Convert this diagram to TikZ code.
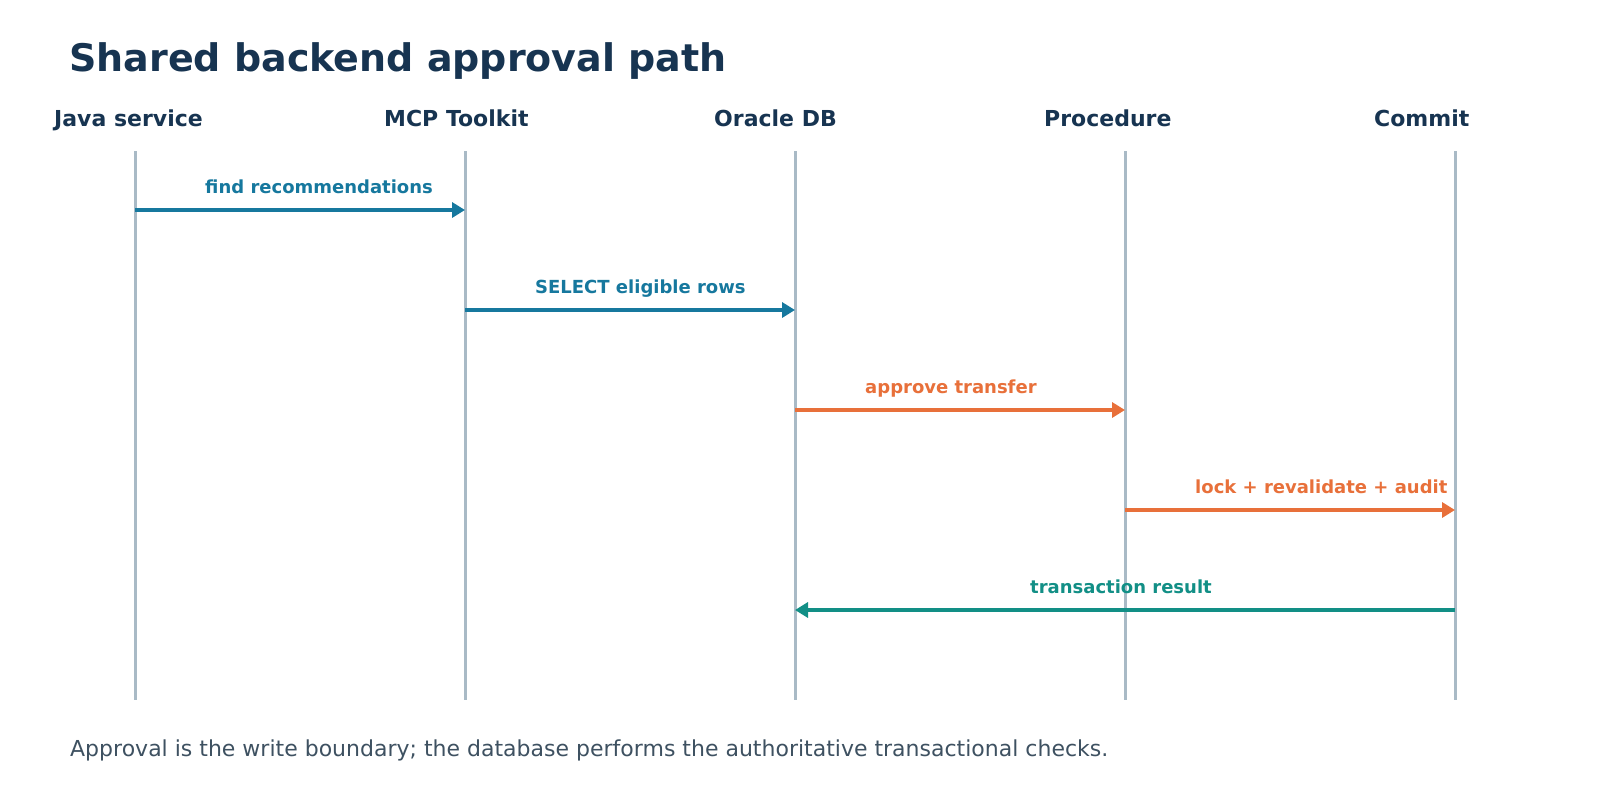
\documentclass[tikz,border=0pt]{standalone}
\usepackage{fontspec}
\setmainfont{DejaVu Sans}
\usetikzlibrary{arrows.meta}
\definecolor{navy}{HTML}{173451}
\definecolor{lanec}{HTML}{A9BAC6}
\definecolor{bluec}{HTML}{16789E}
\definecolor{orangec}{HTML}{E8703A}
\definecolor{tealc}{HTML}{128F86}
\definecolor{footc}{HTML}{3E5161}
\begin{document}
\begin{tikzpicture}[x=1pt,y=-1pt,
  lane/.style={draw=lanec,line width=3pt},
  msg/.style={line width=3.5pt,-{Triangle[length=13pt,width=15pt]}},
  head/.style={anchor=base west,inner sep=0pt,font=\fontsize{22}{26}\selectfont\bfseries,text=navy},
  mlabel/.style={anchor=base west,inner sep=0pt,font=\fontsize{18}{22}\selectfont\bfseries},
]
\useasboundingbox[fill=white] (0,0) rectangle (1600,800);
\node[anchor=base west,inner sep=0pt,font=\fontsize{38}{46}\selectfont\bfseries,text=navy] (title) at (69,71.5) {Shared backend approval path};
% lifelines
\foreach \i/\x/\t in {1/135/Java service,2/465/MCP Toolkit,3/795/Oracle DB,4/1125/Procedure,5/1455/Commit}{
  \node[head] (h\i) at (\x-81,126.5) {\t};
  \coordinate (t\i) at (\x,151);
  \coordinate (b\i) at (\x,700);
  \draw[lane] (t\i) -- (b\i);
}
% messages
\coordinate (s1) at (135,210); \coordinate (e1) at (465,210);
\coordinate (s2) at (465,310); \coordinate (e2) at (795,310);
\coordinate (s3) at (795,410); \coordinate (e3) at (1125,410);
\coordinate (s4) at (1125,510); \coordinate (e4) at (1455,510);
\coordinate (s5) at (1455,610); \coordinate (e5) at (795,610);
\draw[msg,bluec] (s1) -- (e1);
\draw[msg,bluec] (s2) -- (e2);
\draw[msg,orangec] (s3) -- (e3);
\draw[msg,orangec] (s4) -- (e4);
\draw[msg,tealc] (s5) -- (e5);
\node[mlabel,text=bluec] (m1) at (205,193) {find recommendations};
\node[mlabel,text=bluec] (m2) at (535,293) {SELECT eligible rows};
\node[mlabel,text=orangec] (m3) at (865,393) {approve transfer};
\node[mlabel,text=orangec] (m4) at (1195,493) {lock + revalidate + audit};
\node[mlabel,text=tealc] (m5) at (1030,593) {transaction result};
\node[anchor=base west,inner sep=0pt,font=\fontsize{22}{26}\selectfont,text=footc] (foot) at (70,756) {Approval is the write boundary; the database performs the authoritative transactional checks.};
\end{tikzpicture}
\end{document}
